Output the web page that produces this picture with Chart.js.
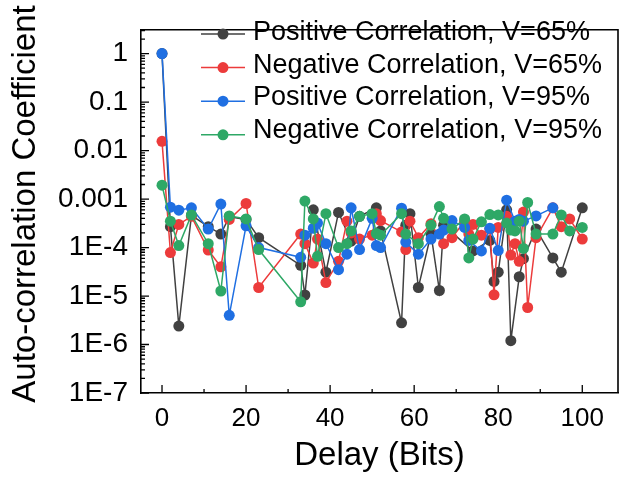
<!DOCTYPE html>
<html>
<head>
<meta charset="utf-8">
<script src="https://cdn.jsdelivr.net/npm/chart.js@4.4.1/dist/chart.umd.min.js"></script>
<style>
  html, body { margin: 0; padding: 0; background: #fff; }
</style>
</head>
<body>
<canvas id="grafico" width="628" height="480"></canvas>
<script>
// delays (bits) shared by the four series, null = no point at that delay
const delays = [0,2,4,7,11,14,16,20,23,33,34,36,37,39,42,44,45,47,50,51,52,57,58,59,61,64,66,67,69,72,73,74,76,78,79,80,82,83,84,85,86,87,89,93,95,97,100]

const pos65 = [1, 2.7e-4, 2.4e-6, 4.6e-4, 2.7e-4, 1.9e-4, 4.3e-4, 3.8e-4, 1.6e-4, 4.3e-5,
  1.05e-5, 6.0e-4, null, 3.1e-5, 5.3e-4, null, 1.35e-4, 4.4e-4, null, 6.6e-4,
  2.2e-4, 2.8e-6, 2.9e-4, 5.0e-4, 1.5e-5, 1.9e-4, 1.3e-5, 2.9e-4, null, null,
  null, 8.5e-5, null, 1.4e-4, 2.0e-5, 3.1e-5, 6.0e-4, 1.2e-6, null, 2.5e-5,
  5.9e-5, null, 2.4e-4, 6.1e-5, 3.1e-5, null, 6.6e-4]

const neg65 = [0.0155, 7.9e-5, 3.0e-4, 4.4e-4, 8.9e-5, 4.0e-5, 3.8e-4, 8.1e-4, 1.5e-5, 1.9e-4,
  1.2e-4, 4.8e-5, 1.5e-4, 1.9e-5, 5.2e-5, 3.5e-4, 2.0e-4, 1.5e-4, 1.8e-4, 5.0e-4,
  3.6e-4, 2.1e-4, 9.1e-5, 3.5e-4, 1.6e-4, 3.1e-4, null, 1.2e-4, 1.6e-4, 3.5e-4,
  1.9e-4, 3.0e-4, 1.8e-4, 2.4e-4, 1.06e-5, 2.6e-4, 4.4e-4, 7.0e-5, 1.2e-4, 5.2e-5,
  5.4e-4, 5.8e-6, 1.6e-4, 6.6e-4, 2.7e-4, 3.9e-4, 1.5e-4]

const pos95 = [1, 6.8e-4, 5.9e-4, 6.6e-4, 2.4e-4, 7.9e-4, 4.0e-6, 2.8e-4, 1.0e-4, 6.3e-5,
  1.8e-4, 2.5e-4, 3.2e-4, 1.2e-4, 3.5e-5, 7.3e-5, 6.6e-4, 9.1e-5, 4.0e-4, 1.1e-4,
  1.0e-4, 6.5e-4, 1.3e-4, null, 7.3e-5, 1.5e-4, 1.9e-4, 2.3e-4, 3.6e-4, 2.6e-4,
  1.4e-4, null, 8.5e-5, 2.5e-4, null, 8.7e-5, 9.5e-4, null, 3.5e-4, 3.8e-4,
  3.5e-4, null, 4.5e-4, 6.6e-4, null, null, null]

const neg95 = [1.93e-3, 3.5e-4, 1.1e-4, 4.7e-4, 1.2e-4, 1.27e-5, 4.5e-4, 3.9e-4, 9.1e-5, 7.6e-6,
  9.1e-4, 3.9e-4, 6.6e-5, 5.0e-4, 1.0e-4, 1.2e-4, 2.2e-4, 4.4e-4, 5.0e-4, 1.95e-4,
  1.8e-4, 5.0e-4, 1.9e-4, null, 1.2e-4, 2.9e-4, 7.0e-4, 4.0e-4, 2.4e-4, 3.9e-4,
  6.1e-5, 1.5e-4, 3.4e-4, 4.8e-4, null, 4.7e-4, 3.2e-4, 2.3e-4, 2.2e-4, 3.5e-4,
  9.6e-5, 8.5e-4, 1.9e-4, 1.9e-4, 4.7e-4, 2.2e-4, 2.6e-4]

const etiquetas = ['Positive Correlation, V=65%', 'Negative Correlation, V=65%',
  'Positive Correlation, V=95%', 'Negative Correlation, V=95%']
const colores = ['#414141', '#ec3b3b', '#1f6fe2', '#2ea866']

const xTicks = [0, 20, 40, 60, 80, 100]
const yTicks = [1, 0.1, 0.01, 0.001, 1e-4, 1e-5, 1e-6, 1e-7]
const yTickLabels = ['1', '0.1', '0.01', '0.001', '1E-4', '1E-5', '1E-6', '1E-7']

const fuente = 'Liberation Sans, Arial, sans-serif'

const puntos = (vals) => delays.map((d, i) => ({ x: d, y: vals[i] })).filter(p => p.y !== null)

const series = [pos65, neg65, pos95, neg95]
const datasets = series.map((vals, i) => ({
  label: etiquetas[i],
  data: puntos(vals),
  borderColor: colores[i],
  backgroundColor: colores[i],
  pointBackgroundColor: colores[i],
  pointBorderWidth: 0,
  pointRadius: 5.5,
  borderWidth: 1.5,
  order: 4 - i,
}))

// inward ticks, frame, legend and y title
const extras = {
  id: 'extras',
  afterDraw(chart) {
    const ctx = chart.ctx
    const a = chart.chartArea
    const x = chart.scales.x
    const y = chart.scales.y
    ctx.save()
    ctx.strokeStyle = '#000'
    ctx.lineWidth = 1.6
    ctx.beginPath()
    ctx.moveTo(a.left, a.top); ctx.lineTo(a.right, a.top); ctx.lineTo(a.right, a.bottom)
    ctx.stroke()

    ctx.lineWidth = 1.3
    ctx.beginPath()
    for (let v = 0; v <= 100; v += 10) {
      const px = x.getPixelForValue(v)
      const len = v % 20 === 0 ? 8 : 4
      ctx.moveTo(px, a.bottom); ctx.lineTo(px, a.bottom - len)
    }
    for (let e = -7; e <= 0; e++) {
      for (let m = 1; m <= 9; m++) {
        const v = m * Math.pow(10, e)
        if (v > y.max) continue
        const py = y.getPixelForValue(v)
        const len = m === 1 ? 8 : 4
        ctx.moveTo(a.left, py); ctx.lineTo(a.left + len, py)
      }
    }
    ctx.stroke()

    // legend
    ctx.font = '27px ' + fuente
    ctx.textBaseline = 'middle'
    ctx.textAlign = 'left'
    etiquetas.forEach((t, i) => {
      const ly = 34 + i * 33.6
      ctx.strokeStyle = colores[i]
      ctx.lineWidth = 1.5
      ctx.beginPath(); ctx.moveTo(201, ly); ctx.lineTo(245, ly); ctx.stroke()
      ctx.fillStyle = colores[i]
      ctx.beginPath(); ctx.arc(223, ly, 5.5, 0, Math.PI * 2); ctx.fill()
      ctx.fillStyle = '#000'
      ctx.fillText(t, 253, 33 + i * 32.4)
    })

    // y title
    ctx.translate(26, 204)
    ctx.rotate(-Math.PI / 2)
    ctx.textAlign = 'center'
    ctx.font = '33px ' + fuente
    ctx.fillText('Auto-correlation Coefficient', 0, 0)
    ctx.restore()
  }
}

const barr = document.getElementById('grafico')

new Chart(barr, {
  type: 'line',
  data: { datasets: datasets },
  plugins: [extras],
  options: {
    responsive: false,
    animation: false,
    devicePixelRatio: 1,
    layout: { padding: { top: 6, right: 10, left: 0, bottom: 0 } },
    plugins: { legend: { display: false }, tooltip: { enabled: false } },
    scales: {
      x: {
        type: 'linear',
        min: -5,
        max: 108.5,
        afterBuildTicks: (s) => { s.ticks = xTicks.map(v => ({ value: v })) },
        afterFit: (s) => { s.height = 87 },
        grid: { display: false, drawTicks: false },
        border: { display: true, color: '#000', width: 1.6 },
        ticks: { color: '#000', font: { family: fuente, size: 26 }, padding: 10, maxRotation: 0 },
        title: { display: true, text: 'Delay (Bits)', color: '#000', font: { family: fuente, size: 33 }, padding: { top: 0, bottom: 4 } },
      },
      y: {
        type: 'logarithmic',
        min: 1e-7,
        max: 3.1,
        afterBuildTicks: (s) => { s.ticks = yTicks.map(v => ({ value: v })) },
        afterFit: (s) => { s.width = 141 },
        grid: { display: false, drawTicks: false },
        border: { display: true, color: '#000', width: 1.6 },
        ticks: {
          color: '#000',
          font: { family: fuente, size: 28 },
          padding: 13,
          callback: (v) => {
            const i = yTicks.findIndex(t => Math.abs(t - v) / t < 1e-6)
            return i >= 0 ? yTickLabels[i] : ''
          },
        },
      },
    },
  },
})
</script>
</body>
</html>
